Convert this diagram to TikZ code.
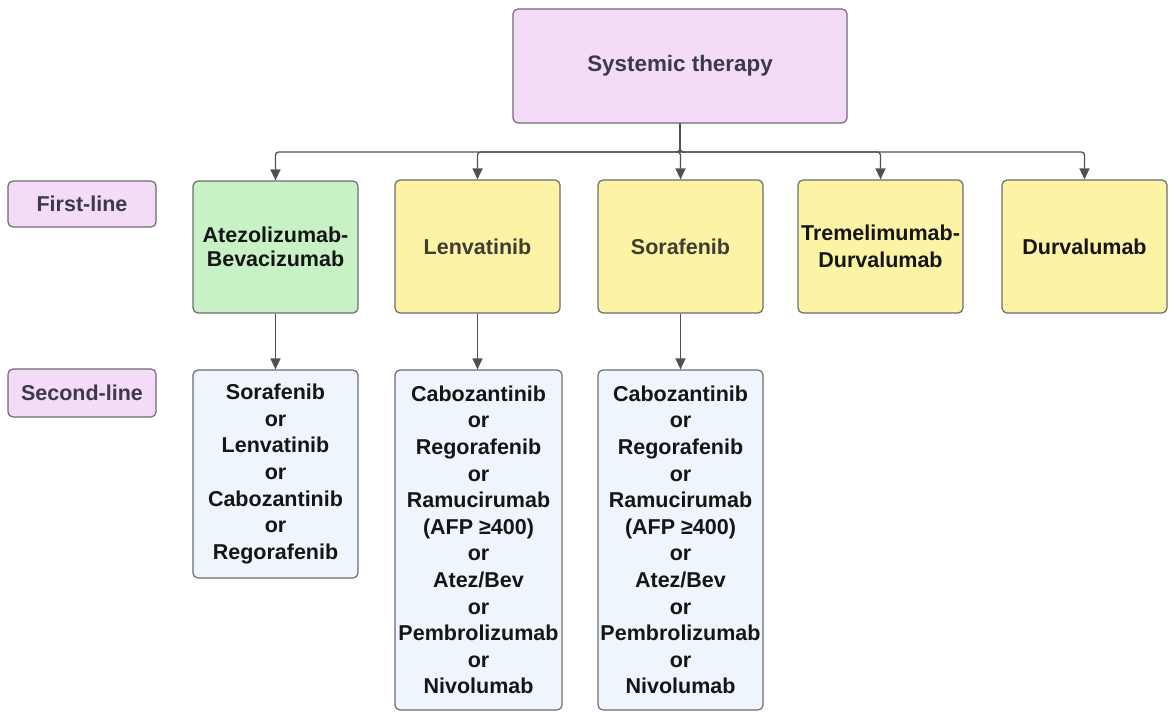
\documentclass[tikz,border=0pt]{standalone}
\usepackage{fontspec}
\setmainfont{Liberation Sans}
\usetikzlibrary{arrows.meta}
\definecolor{lilac}{HTML}{F4DBF8}
\definecolor{mint}{HTML}{C8F2C6}
\definecolor{lemon}{HTML}{FCF3A4}
\definecolor{ice}{HTML}{EEF5FC}
\definecolor{edge}{HTML}{6E6A70}
\definecolor{wire}{HTML}{505050}
\definecolor{inkgray}{HTML}{3C3A48}
\definecolor{inkolive}{HTML}{3D3D33}
\definecolor{ink}{HTML}{151515}
\tikzset{
  box/.style={draw=edge, line width=1.2pt, rounded corners=5pt, align=center,
    font=\fontsize{21.5}{26.6}\selectfont\bfseries, text=ink, inner sep=0pt},
  purplebox/.style={box, fill=lilac, text=inkgray},
  greenbox/.style={box, fill=mint},
  yellowbox/.style={box, fill=lemon},
  bluebox/.style={box, fill=ice},
  link/.style={draw=wire, line width=1.3pt, -{Triangle[length=11pt,width=10pt]}},
}
\begin{document}
\begin{tikzpicture}[x=1pt,y=-1pt]
\useasboundingbox (0,0) rectangle (1170,712);

% root
\node[purplebox, minimum width=334pt, minimum height=114pt, font=\fontsize{22.4}{26}\selectfont\bfseries] (sys) at (680,66) {Systemic therapy};

% row labels
\node[purplebox, minimum width=148pt, minimum height=46pt] (first) at (82,204) {First-line};
\node[purplebox, minimum width=148pt, minimum height=48pt] (second) at (82,393) {Second-line};

% first-line options
\node[greenbox, minimum width=165pt, minimum height=132pt, font=\fontsize{21.5}{23.5}\selectfont\bfseries] (atezo) at (275.5,247) {Atezolizumab-\\Bevacizumab};
\node[yellowbox, minimum width=165pt, minimum height=133pt, text=inkolive] (lenva) at (477.5,246.5) {Lenvatinib};
\node[yellowbox, minimum width=165pt, minimum height=133pt, text=inkolive] (sora) at (680.5,246.5) {Sorafenib};
\node[yellowbox, minimum width=165pt, minimum height=133pt] (treme) at (880.5,246.5) {Tremelimumab-\\Durvalumab};
\node[yellowbox, minimum width=165pt, minimum height=133pt] (durva) at (1084.5,246.5) {Durvalumab};

% second-line options
\node[bluebox, minimum width=165pt, minimum height=208pt] (atezo2) at (275.5,474)
  {Sorafenib\\or\\Lenvatinib\\or\\Cabozantinib\\or\\Regorafenib};
\node[bluebox, minimum width=167pt, minimum height=340pt] (lenva2) at (478.5,540)
  {Cabozantinib\\or\\Regorafenib\\or\\Ramucirumab\\(AFP ≥400)\\or\\Atez/Bev\\or\\Pembrolizumab\\or\\Nivolumab};
\node[bluebox, minimum width=165pt, minimum height=340pt] (sora2) at (680.5,540)
  {Cabozantinib\\or\\Regorafenib\\or\\Ramucirumab\\(AFP ≥400)\\or\\Atez/Bev\\or\\Pembrolizumab\\or\\Nivolumab};

% branching from the root
\coordinate (bar) at (680,152);
\foreach \t in {atezo,lenva,sora,treme,durva}
  \draw[link, rounded corners=3pt] (sys.south) -- (bar) -| (\t.north);

% first-line to second-line
\draw[link] (atezo.south) -- (atezo2.north);
\draw[link] (lenva.south) -- (lenva2.north -| lenva.south);
\draw[link] (sora.south) -- (sora2.north -| sora.south);
\end{tikzpicture}
\end{document}
